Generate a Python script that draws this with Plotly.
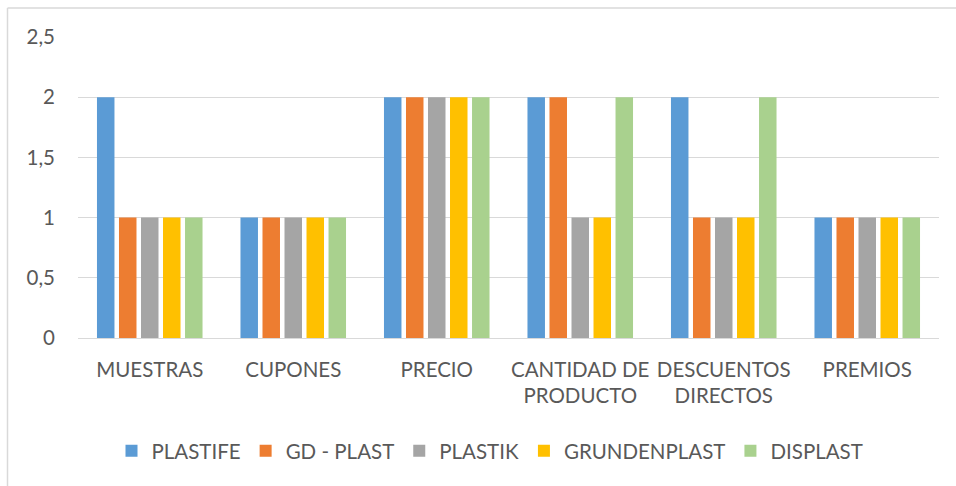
import plotly.graph_objects as go

# Promotion types (x categories) and scores per company
categories = ["MUESTRAS", "CUPONES", "PRECIO", "CANTIDAD DE<br>PRODUCTO",
              "DESCUENTOS<br>DIRECTOS", "PREMIOS"]
plastife = [2, 1, 2, 2, 2, 1]
gd_plast = [1, 1, 2, 2, 1, 1]
plastik = [1, 1, 2, 1, 1, 1]
grundenplast = [1, 1, 2, 1, 1, 1]
displast = [1, 1, 2, 2, 2, 1]

y_ticks = [0, 0.5, 1, 1.5, 2, 2.5]

series = [
    ("PLASTIFE", plastife, "#5B9BD5"),
    ("GD - PLAST", gd_plast, "#ED7D31"),
    ("PLASTIK", plastik, "#A5A5A5"),
    ("GRUNDENPLAST", grundenplast, "#FFC000"),
    ("DISPLAST", displast, "#A9D18E"),
]

fig = go.Figure()
for name, vals, color in series:
    fig.add_trace(go.Bar(x=categories, y=vals, name=name,
                         marker=dict(color=color, line=dict(width=0))))

W, H = 956, 486
ml, mr, mt, mb = 78, 17, 37, 148
pw, ph = W - ml - mr, H - mt - mb

def px_x(x):
    return (x - ml) / pw

def px_y(y):
    return (H - mb - y) / ph

font = dict(family="Lato, Calibri, sans-serif", size=20.5, color="#595959")

fig.update_layout(
    width=W, height=H,
    margin=dict(l=ml, r=mr, t=mt, b=mb),
    paper_bgcolor="white", plot_bgcolor="white",
    separators=", ",
    barmode="group", bargap=0.233, bargroupgap=0.205,
    font=font,
    showlegend=True,
    legend=dict(orientation="h", x=px_x(490), xanchor="center",
                y=px_y(451), yanchor="middle",
                font=font, traceorder="normal"),
    xaxis=dict(showgrid=False, showline=True, linecolor="#D9D9D9", linewidth=1,
               ticks="", tickfont=font, ticklabelstandoff=13, fixedrange=True),
    yaxis=dict(range=[0, 2.5], tickvals=y_ticks, showgrid=True,
               gridcolor="#D9D9D9", gridwidth=1, zeroline=False,
               showline=False, ticks="", tickfont=font,
               ticklabelstandoff=22),
)

# chart frame (top and left edges)
frame = "#D9D9D9"
fig.add_shape(type="line", xref="paper", yref="paper",
              x0=px_x(7.5), x1=px_x(960), y0=px_y(8), y1=px_y(8),
              line=dict(color=frame, width=1.5))
fig.add_shape(type="line", xref="paper", yref="paper",
              x0=px_x(7.5), x1=px_x(7.5), y0=px_y(8), y1=px_y(490),
              line=dict(color=frame, width=1.5))

fig.write_html("out.html")
